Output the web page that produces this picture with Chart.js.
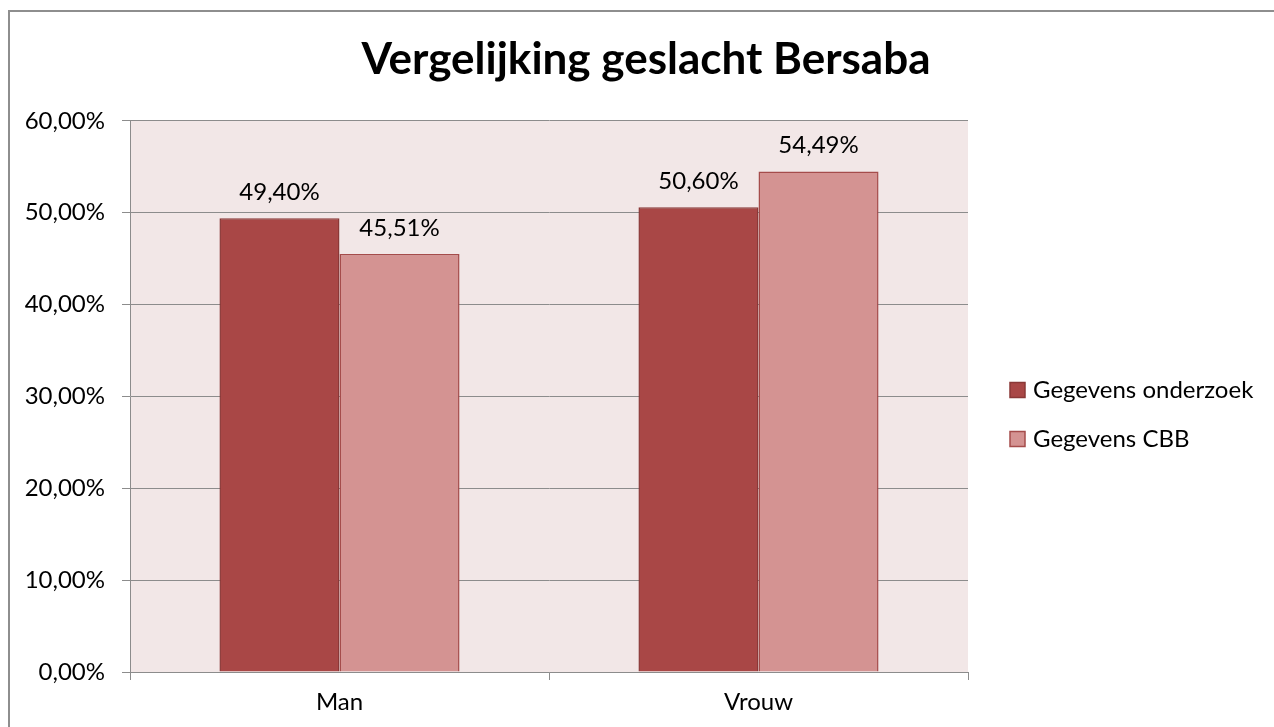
<!DOCTYPE html>
<html>
<head>
<meta charset="utf-8">
<script src="https://cdn.jsdelivr.net/npm/chart.js@4"></script>
<style>
  html, body { margin: 0; padding: 0; background: #fff; overflow: hidden; }
  #frame { position: absolute; left: 8px; top: 10px; width: 1266px; height: 717px;
           border-left: 2px solid #8e8e8e; border-top: 2px solid #8e8e8e; }
  canvas { display: block; }
</style>
</head>
<body>
<div id="frame"><canvas id="barChart" width="1264" height="715"></canvas></div>
<script>
const categories = ['Man', 'Vrouw'];
const onderzoek = [49.40, 50.60];
const cbb = [45.51, 54.49];
const yTicks = [0, 10, 20, 30, 40, 50, 60];

const FONT = 'Lato';
const fmt = v => v.toFixed(2).replace('.', ',') + '%';

// plot area background
const plotBg = {
  id: 'plotBg',
  beforeDraw(chart) {
    const { ctx, chartArea: a } = chart;
    ctx.save();
    ctx.fillStyle = '#F2E7E7';
    ctx.fillRect(a.left, a.top, a.right - a.left, a.bottom - a.top);
    ctx.restore();
  }
};

// value labels above bars
const barLabels = {
  id: 'barLabels',
  afterDatasetsDraw(chart) {
    const ctx = chart.ctx;
    ctx.save();
    ctx.font = '24px ' + FONT;
    ctx.fillStyle = '#000';
    ctx.textAlign = 'center';
    ctx.textBaseline = 'alphabetic';
    chart.data.datasets.forEach((ds, i) => {
      chart.getDatasetMeta(i).data.forEach((bar, j) => {
        ctx.fillText(fmt(ds.data[j]), bar.x, bar.y - 18);
      });
    });
    ctx.restore();
  }
};

// legend on the right, Excel style (space kept free by the empty 'side' axis)
const sideLegend = {
  id: 'sideLegend',
  afterDraw(chart) {
    const ctx = chart.ctx;
    ctx.save();
    ctx.font = '24px ' + FONT;
    ctx.textBaseline = 'middle';
    chart.data.datasets.forEach((ds, i) => {
      const y = 378 + i * 49;
      ctx.fillStyle = ds.backgroundColor;
      ctx.fillRect(1000, y - 7.5, 15, 15);
      ctx.strokeStyle = ds.borderColor;
      ctx.lineWidth = 1.5;
      ctx.strokeRect(1000, y - 7.5, 15, 15);
      ctx.fillStyle = '#000';
      ctx.fillText(ds.label, 1023, y);
    });
    ctx.restore();
  }
};

new Chart(document.getElementById('barChart'), {
  type: 'bar',
  data: {
    labels: categories,
    datasets: [
      { label: 'Gegevens onderzoek', data: onderzoek, backgroundColor: '#A94746', borderColor: '#8A3837', borderWidth: 1.5 },
      { label: 'Gegevens CBB', data: cbb, backgroundColor: '#D49392', borderColor: '#A54C4B', borderWidth: 1.5 }
    ]
  },
  options: {
    responsive: false,
    animation: false,
    layout: { padding: { left: 8, right: 0, top: 0, bottom: 0 } },
    datasets: { bar: { categoryPercentage: 0.573, barPercentage: 1 } },
    plugins: {
      legend: { display: false },
      tooltip: { enabled: false },
      title: {
        display: true,
        text: 'Vergelijking geslacht Bersaba',
        color: '#000',
        font: { family: FONT, size: 44, weight: 'bold', lineHeight: 1.2 },
        padding: { top: 21, bottom: 35 }
      }
    },
    scales: {
      x: {
        afterFit(s) { s.height = 55; },
        grid: { drawOnChartArea: false, drawTicks: true, tickLength: 8, color: '#8c8c8c' },
        border: { color: '#8c8c8c' },
        ticks: { color: '#000', padding: 8, font: { family: FONT, size: 24 } }
      },
      y: {
        min: 0, max: 60,
        afterFit(s) { s.width = 112; },
        afterBuildTicks(s) { s.ticks = yTicks.map(v => ({ value: v })); },
        grid: { color: '#8c8c8c', tickLength: 8 },
        border: { color: '#8c8c8c' },
        ticks: { color: '#000', padding: 17, font: { family: FONT, size: 24 }, callback: v => fmt(v) }
      },
      side: {
        type: 'linear',
        position: 'right',
        min: 0, max: 1,
        afterFit(s) { s.width = 306; },
        grid: { display: false },
        border: { display: false },
        ticks: { display: false }
      }
    }
  },
  plugins: [plotBg, barLabels, sideLegend]
});
</script>
</body>
</html>
